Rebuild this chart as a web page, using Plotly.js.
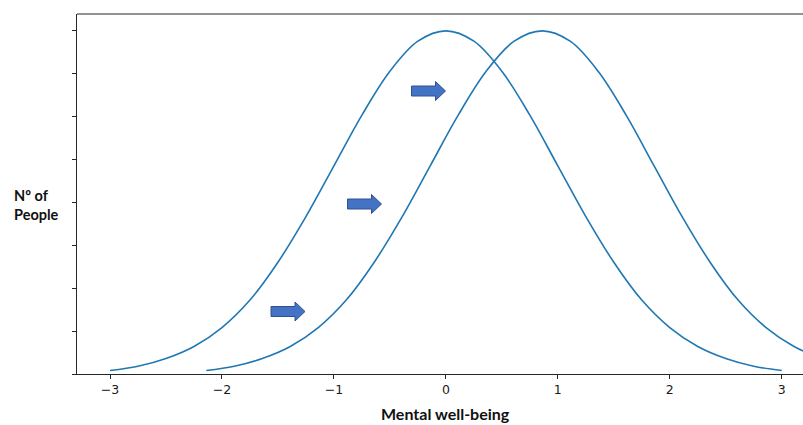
<!DOCTYPE html>
<html>
<head>
<meta charset="utf-8">
<script src="https://cdn.plot.ly/plotly-3.0.1.min.js"></script>
<style>
html,body{margin:0;padding:0;background:#fff;}
#chart{width:803px;height:425px;}
</style>
</head>
<body>
<div id="chart"></div>
<script>
// Curve before (centred on 0)
var xBefore = [-3, -2.75, -2.5, -2.25, -2, -1.75, -1.5, -1.25, -1, -0.75, -0.5, -0.25, 0,
               0.25, 0.5, 0.75, 1, 1.25, 1.5, 1.75, 2, 2.25, 2.5, 2.75, 3];
var yBefore = [0.004, 0.009, 0.018, 0.032, 0.054, 0.086, 0.130, 0.183, 0.242, 0.301, 0.352, 0.387, 0.399,
               0.387, 0.352, 0.301, 0.242, 0.183, 0.130, 0.086, 0.054, 0.032, 0.018, 0.009, 0.004];
// Curve after (shifted right)
var xAfter = [-2.14, -1.89, -1.64, -1.39, -1.14, -0.89, -0.64, -0.39, -0.14, 0.11, 0.36, 0.61, 0.86,
              1.11, 1.36, 1.61, 1.86, 2.11, 2.36, 2.61, 2.86, 3.11, 3.36, 3.61, 3.86];
var yAfter = [0.004, 0.009, 0.018, 0.032, 0.054, 0.086, 0.130, 0.183, 0.242, 0.301, 0.352, 0.387, 0.399,
              0.387, 0.352, 0.301, 0.242, 0.183, 0.130, 0.086, 0.054, 0.032, 0.018, 0.009, 0.004];
var xTickVals = [-3, -2, -1, 0, 1, 2, 3];
var xTickText = ["\u22123", "\u22122", "\u22121", "0", "1", "2", "3"];
var yTickVals = [0, 0.05, 0.1, 0.15, 0.2, 0.25, 0.3, 0.35, 0.4];

var W = 803, H = 425;
var M = {l: 77, r: 0, t: 14, b: 51};
function px(x){ return (x - M.l) / (W - M.l - M.r); }
function py(y){ return (H - M.b - y) / (H - M.t - M.b); }

// block arrows (decoration), pixel anchors: left edge, vertical centre
var arrowAnchors = [[411.5, 91], [347.5, 204], [271, 311.5]];
function arrowPath(a){
  var x0 = a[0], cy = a[1], L = 34, hl = 10, bh = 5, hh = 9.5;
  var pts = [[x0, cy-bh],[x0+L-hl, cy-bh],[x0+L-hl, cy-hh],[x0+L, cy],
             [x0+L-hl, cy+hh],[x0+L-hl, cy+bh],[x0, cy+bh]];
  return 'M' + pts.map(function(p){ return px(p[0]).toFixed(5) + ',' + py(p[1]).toFixed(5); }).join(' L') + ' Z';
}
var shapes = arrowAnchors.map(function(a){
  return {type:'path', xref:'paper', yref:'paper', path: arrowPath(a),
          fillcolor:'#4472C4', line:{color:'#2F528F', width:1}};
});
shapes.push({type:'line', xref:'paper', yref:'paper', x0:0, x1:1, y0:1, y1:1,
             line:{color:'#262626', width:1}});

var lineStyle = {color:'#1f77b4', width:1.6, shape:'spline', smoothing:1};
var data = [
  {x:xBefore, y:yBefore, type:'scatter', mode:'lines', line:lineStyle, hoverinfo:'skip'},
  {x:xAfter, y:yAfter, type:'scatter', mode:'lines', line:lineStyle, hoverinfo:'skip'}
];

var layout = {
  width: W, height: H,
  margin: M,
  showlegend: false,
  paper_bgcolor: '#fff', plot_bgcolor: '#fff',
  xaxis: {range:[-3.295, 3.19], tickvals:xTickVals, ticktext:xTickText,
          ticks:'outside', ticklen:4, tickwidth:1, tickcolor:'#262626',
          showline:true, linecolor:'#262626', linewidth:1, showgrid:false, zeroline:false,
          tickfont:{family:'DejaVu Sans', size:12.5, color:'#1a1a1a'}},
  yaxis: {range:[0, 0.4186], tickvals:yTickVals, showticklabels:false,
          ticks:'outside', ticklen:4, tickwidth:1, tickcolor:'#262626',
          showline:true, linecolor:'#262626', linewidth:1, showgrid:false, zeroline:false},
  shapes: shapes,
  annotations: [
    {text:'<b>N\u00ba of<br>People</b>', xref:'paper', yref:'paper', x:px(12), y:py(205),
     xanchor:'left', yanchor:'middle', align:'left', showarrow:false,
     font:{family:'Lato', size:14.5, color:'#111'}},
    {text:'<b>Mental well-being</b>', xref:'paper', yref:'paper', x:px(445.5), y:py(413.5),
     xanchor:'center', yanchor:'middle', showarrow:false,
     font:{family:'Lato', size:16, color:'#111'}}
  ]
};
Plotly.newPlot('chart', data, layout, {staticPlot:true});
</script>
</body>
</html>
